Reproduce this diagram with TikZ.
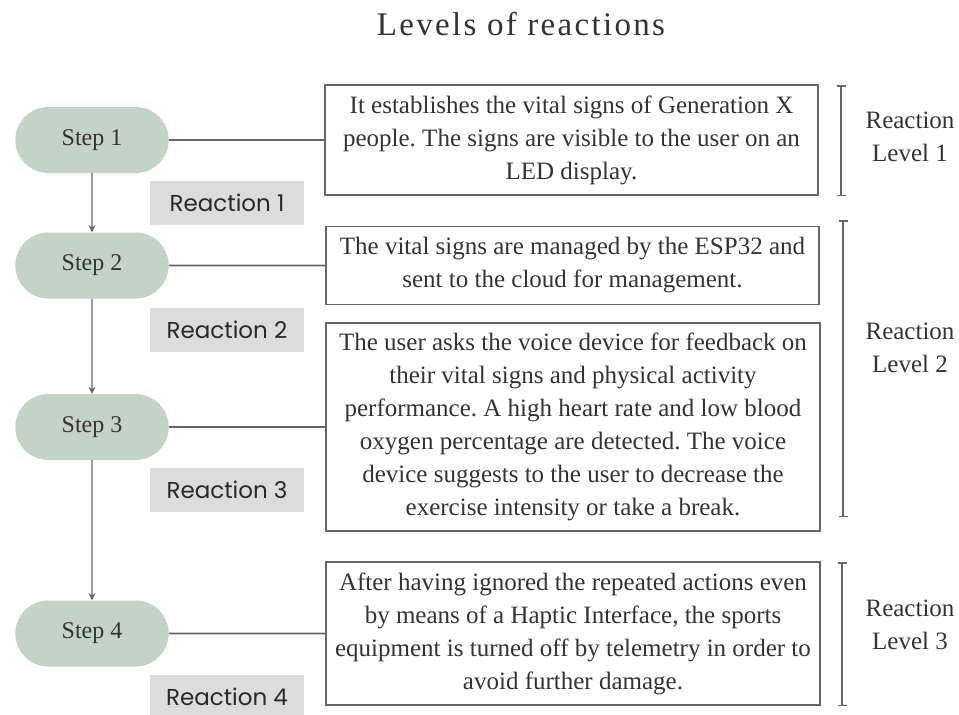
\documentclass[tikz,border=0pt]{standalone}
\usepackage{fontspec}
\setmainfont{Liberation Serif}
\newfontfamily\titlefont[LetterSpace=7]{Liberation Serif}
\newfontfamily\tagfont{Poppins}
\usetikzlibrary{shapes.misc,arrows.meta,positioning}
\definecolor{sage}{RGB}{195,211,197}
\definecolor{tagbg}{RGB}{220,220,220}
\definecolor{rulegray}{RGB}{102,102,102}
\definecolor{ink}{RGB}{51,51,51}
\frenchspacing

\begin{document}
\begin{tikzpicture}[x=1pt, y=-1pt,
  stepnode/.style={rounded rectangle, fill=sage, minimum width=160pt, minimum height=66pt, font=\fontsize{24}{33}\selectfont, text=ink},
  tagbox/.style={rectangle, fill=tagbg, minimum width=154pt, minimum height=44pt, font=\tagfont\fontsize{23}{26}\selectfont, text=ink!80!black},
  infobox/.style={rectangle, draw=rulegray, line width=1.5pt, align=center, inner sep=3pt, font=\fontsize{25}{33}\selectfont, text=ink},
  levellabel/.style={align=center, inner sep=0pt, font=\fontsize{25}{33}\selectfont, text=ink},
  link/.style={draw=rulegray, line width=1.8pt},
  flow/.style={draw=rulegray, line width=1.3pt, -{Stealth[length=7pt,width=7pt]}},
  levelbar/.style={draw=rulegray, line width=1.5pt, {Bar[width=9pt]}-{Bar[width=9pt]}}]
\useasboundingbox (0,0) rectangle (959,715);
\node[anchor=base, font=\titlefont\fontsize{33}{40}\selectfont, text=ink] (title) at (521,35) {Levels of reactions};
\node[stepnode] (step1) at (92,140) {Step 1};
\node[stepnode] (step2) at (92,265.5) {Step 2};
\node[stepnode] (step3) at (92,427) {Step 3};
\node[stepnode] (step4) at (92,633.5) {Step 4};
\node[tagbox] (tag1) at (227,203) {Reaction 1};
\node[tagbox] (tag2) at (227,330) {Reaction 2};
\node[tagbox] (tag3) at (227,490) {Reaction 3};
\node[tagbox] (tag4) at (227,697) {Reaction 4};
\node[infobox, minimum width=493pt, minimum height=110pt] (info1) at (571.5,140)
  {It establishes the vital signs of Generation X\\people. The signs are visible to the user on an\\LED display.};
\node[infobox, minimum width=493pt, minimum height=78pt] (info2) at (572.5,265.5)
  {The vital signs are managed by the ESP32 and\\sent to the cloud for management.};
\node[infobox, minimum width=494pt, minimum height=208pt] (info3) at (573,427)
  {The user asks the voice device for feedback on\\their vital signs and physical activity\\performance. A high heart rate and low blood\\oxygen percentage are detected. The voice\\device suggests to the user to decrease the\\exercise intensity or take a break.};
\node[infobox, minimum width=494pt, minimum height=143pt] (info4) at (573,633.5)
  {After having ignored the repeated actions even\\by means of a Haptic Interface, the sports\\equipment is turned off by telemetry in order to\\avoid further damage.};
\node[levellabel] (level1) at (910,137) {Reaction\\Level 1};
\node[levellabel] (level2) at (910,348) {Reaction\\Level 2};
\node[levellabel] (level3) at (910,625) {Reaction\\Level 3};
\draw[flow] (step1) -- (step2);
\draw[flow] (step2) -- (step3);
\draw[flow] (step3) -- (step4);
\draw[link] (step1) -- (info1);
\draw[link] (step2) -- (info2);
\draw[link] (step3) -- (info3);
\draw[link] (step4) -- (info4);
\draw[levelbar] (841,85) -- (841,196);
\draw[levelbar] (843,220) -- (843,517);
\draw[levelbar] (842,562) -- (842,706);
\end{tikzpicture}
\end{document}
